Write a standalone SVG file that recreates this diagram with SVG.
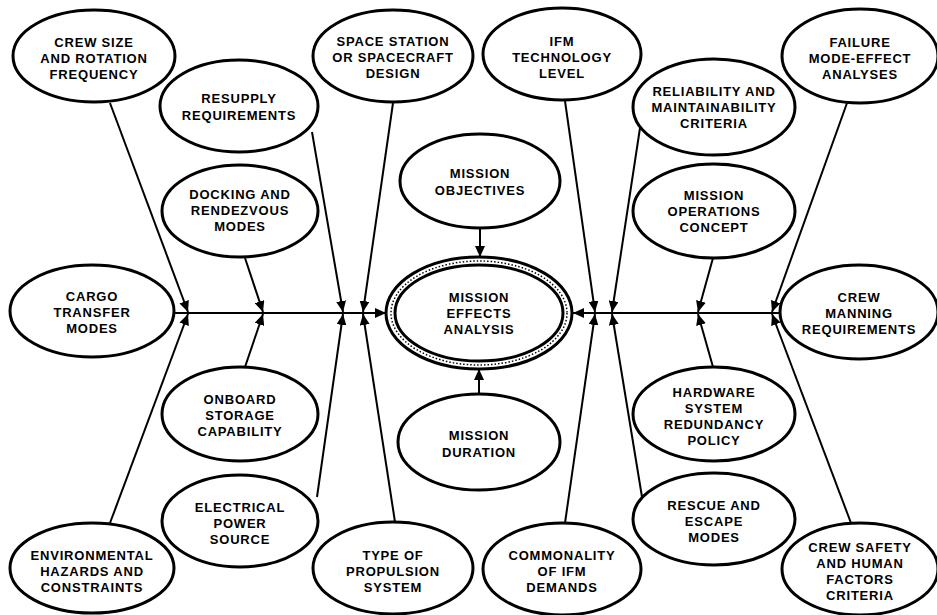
<svg xmlns="http://www.w3.org/2000/svg" width="937" height="615" viewBox="0 0 937 615">
  <style>
    .bg { fill: #ffffff; }
    .node ellipse { fill: #ffffff; stroke: #000000; stroke-width: 3; }
    .node text { font-family: "Liberation Sans", Arial, sans-serif; font-weight: bold; font-size: 13px; letter-spacing: 0.8px; text-anchor: middle; fill: #000000; }
    .edge { stroke: #000000; stroke-width: 2; fill: none; marker-end: url(#arrow); }
    .axis { stroke: #000000; stroke-width: 2; fill: none; }
  </style>
  <defs>
    <marker id="arrow" markerUnits="userSpaceOnUse" markerWidth="11" markerHeight="10" refX="11" refY="5" orient="auto">
      <path d="M0,0 L11,5 L0,10 Z" fill="#000000"/>
    </marker>
  </defs>
  <rect class="bg" x="0" y="0" width="937" height="615"/>

  <!-- connectors -->
  <g id="connectors">
    <line class="axis" x1="175" y1="313" x2="376" y2="313"/>
    <line class="edge" x1="370" y1="313" x2="386" y2="313"/>
    <line class="axis" x1="780" y1="313" x2="582" y2="313"/>
    <line class="edge" x1="590" y1="313" x2="573" y2="313"/>

    <line class="edge" x1="110" y1="103" x2="188" y2="312"/>
    <line class="edge" x1="110" y1="523" x2="188" y2="314"/>
    <line class="edge" x1="245" y1="258" x2="263" y2="312"/>
    <line class="edge" x1="245" y1="367" x2="263" y2="314"/>
    <line class="edge" x1="312" y1="132" x2="343" y2="312"/>
    <line class="edge" x1="317" y1="497" x2="343" y2="314"/>
    <line class="edge" x1="393" y1="103" x2="363" y2="312"/>
    <line class="edge" x1="395" y1="522" x2="363" y2="314"/>

    <line class="edge" x1="480" y1="228" x2="480" y2="257"/>
    <line class="edge" x1="479" y1="393" x2="479" y2="369"/>

    <line class="edge" x1="565" y1="101" x2="595" y2="312"/>
    <line class="edge" x1="565" y1="523" x2="595" y2="314"/>
    <line class="edge" x1="640" y1="128" x2="612" y2="312"/>
    <line class="edge" x1="642" y1="497" x2="612" y2="314"/>
    <line class="edge" x1="713" y1="258" x2="698" y2="312"/>
    <line class="edge" x1="713" y1="367" x2="698" y2="314"/>
    <line class="edge" x1="847" y1="103" x2="772" y2="312"/>
    <line class="edge" x1="851" y1="523" x2="772" y2="314"/>
  </g>

  <!-- central node -->
  <g id="mission-effects-analysis" class="node">
    <ellipse cx="479" cy="313" rx="93" ry="56" stroke-width="4"/>
    <ellipse cx="479" cy="313" rx="88" ry="52" style="stroke-width:1.5;stroke-dasharray:1.5 2;fill:none"/>
    <ellipse cx="479" cy="313" rx="84" ry="48" style="stroke-width:3"/>
    <text x="479" y="302">MISSION</text>
    <text x="479" y="318">EFFECTS</text>
    <text x="479" y="334">ANALYSIS</text>
  </g>

  <!-- left side -->
  <g id="crew-size" class="node">
    <ellipse cx="94" cy="56" rx="81" ry="46"/>
    <text x="94" y="47">CREW SIZE</text>
    <text x="94" y="63">AND ROTATION</text>
    <text x="94" y="79">FREQUENCY</text>
  </g>
  <g id="resupply" class="node">
    <ellipse cx="239" cy="106" rx="79" ry="46"/>
    <text x="239" y="103">RESUPPLY</text>
    <text x="239" y="120">REQUIREMENTS</text>
  </g>
  <g id="docking" class="node">
    <ellipse cx="240" cy="211" rx="78" ry="46"/>
    <text x="240" y="199">DOCKING AND</text>
    <text x="240" y="215">RENDEZVOUS</text>
    <text x="240" y="231">MODES</text>
  </g>
  <g id="cargo-transfer" class="node">
    <ellipse cx="92" cy="311" rx="82" ry="46"/>
    <text x="92" y="301">CARGO</text>
    <text x="92" y="317">TRANSFER</text>
    <text x="92" y="333">MODES</text>
  </g>
  <g id="onboard-storage" class="node">
    <ellipse cx="240" cy="414" rx="78" ry="47"/>
    <text x="240" y="404">ONBOARD</text>
    <text x="240" y="420">STORAGE</text>
    <text x="240" y="436">CAPABILITY</text>
  </g>
  <g id="electrical-power" class="node">
    <ellipse cx="240" cy="521" rx="78" ry="46"/>
    <text x="240" y="512">ELECTRICAL</text>
    <text x="240" y="528">POWER</text>
    <text x="240" y="544">SOURCE</text>
  </g>
  <g id="environmental" class="node">
    <ellipse cx="92" cy="568" rx="82" ry="45"/>
    <text x="92" y="560">ENVIRONMENTAL</text>
    <text x="92" y="576">HAZARDS AND</text>
    <text x="92" y="592">CONSTRAINTS</text>
  </g>

  <!-- centre column -->
  <g id="space-station" class="node">
    <ellipse cx="393" cy="56" rx="80" ry="46"/>
    <text x="393" y="46">SPACE STATION</text>
    <text x="393" y="62">OR SPACECRAFT</text>
    <text x="393" y="78">DESIGN</text>
  </g>
  <g id="mission-objectives" class="node">
    <ellipse cx="480" cy="181" rx="80" ry="47"/>
    <text x="480" y="178">MISSION</text>
    <text x="480" y="195">OBJECTIVES</text>
  </g>
  <g id="mission-duration" class="node">
    <ellipse cx="479" cy="442" rx="81" ry="48"/>
    <text x="479" y="440">MISSION</text>
    <text x="479" y="457">DURATION</text>
  </g>
  <g id="propulsion" class="node">
    <ellipse cx="393" cy="568" rx="80" ry="46"/>
    <text x="393" y="560">TYPE OF</text>
    <text x="393" y="576">PROPULSION</text>
    <text x="393" y="592">SYSTEM</text>
  </g>
  <g id="ifm-technology" class="node">
    <ellipse cx="562" cy="54" rx="79" ry="46"/>
    <text x="562" y="46">IFM</text>
    <text x="562" y="62">TECHNOLOGY</text>
    <text x="562" y="78">LEVEL</text>
  </g>
  <g id="commonality" class="node">
    <ellipse cx="562" cy="569" rx="79" ry="46"/>
    <text x="562" y="560">COMMONALITY</text>
    <text x="562" y="576">OF IFM</text>
    <text x="562" y="592">DEMANDS</text>
  </g>

  <!-- right side -->
  <g id="failure-mode" class="node">
    <ellipse cx="860" cy="56" rx="78" ry="47"/>
    <text x="860" y="47">FAILURE</text>
    <text x="860" y="63">MODE-EFFECT</text>
    <text x="860" y="79">ANALYSES</text>
  </g>
  <g id="reliability" class="node">
    <ellipse cx="714" cy="107" rx="81" ry="48"/>
    <text x="714" y="96">RELIABILITY AND</text>
    <text x="714" y="112">MAINTAINABILITY</text>
    <text x="714" y="128">CRITERIA</text>
  </g>
  <g id="mission-operations" class="node">
    <ellipse cx="714" cy="211" rx="81" ry="47"/>
    <text x="714" y="200">MISSION</text>
    <text x="714" y="216">OPERATIONS</text>
    <text x="714" y="232">CONCEPT</text>
  </g>
  <g id="crew-manning" class="node">
    <ellipse cx="859" cy="312" rx="79" ry="47"/>
    <text x="859" y="302">CREW</text>
    <text x="859" y="318">MANNING</text>
    <text x="859" y="334">REQUIREMENTS</text>
  </g>
  <g id="hardware-redundancy" class="node">
    <ellipse cx="714" cy="414" rx="81" ry="47"/>
    <text x="714" y="397">HARDWARE</text>
    <text x="714" y="413">SYSTEM</text>
    <text x="714" y="429">REDUNDANCY</text>
    <text x="714" y="445">POLICY</text>
  </g>
  <g id="rescue-escape" class="node">
    <ellipse cx="714" cy="519" rx="81" ry="46"/>
    <text x="714" y="510">RESCUE AND</text>
    <text x="714" y="526">ESCAPE</text>
    <text x="714" y="542">MODES</text>
  </g>
  <g id="crew-safety" class="node">
    <ellipse cx="860" cy="569" rx="78" ry="46"/>
    <text x="860" y="552">CREW SAFETY</text>
    <text x="860" y="568">AND HUMAN</text>
    <text x="860" y="584">FACTORS</text>
    <text x="860" y="600">CRITERIA</text>
  </g>
</svg>
